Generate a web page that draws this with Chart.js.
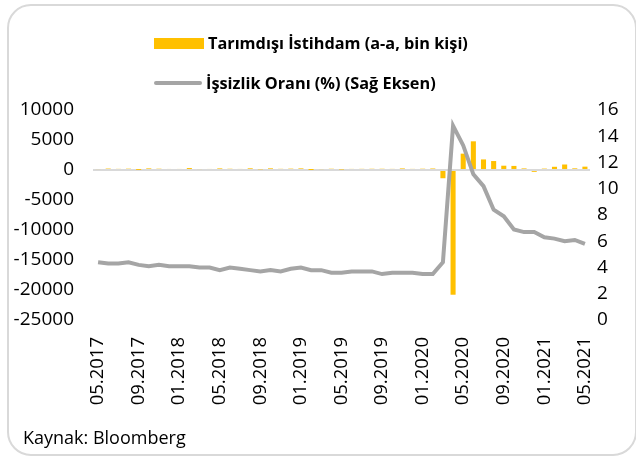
<!DOCTYPE html>
<html>
<head>
<meta charset="utf-8">
<script src="https://cdn.jsdelivr.net/npm/chart.js@4.4.1/dist/chart.umd.min.js"></script>
<style>
  html, body { margin: 0; padding: 0; background: #fff; }
  #wrap { position: relative; width: 636px; height: 457px; overflow: hidden; font-family: 'Open Sans', sans-serif; }
  #frame { position: absolute; left: 7px; top: 4px; width: 626px; height: 448px; border: 2px solid #d9d9d9; border-radius: 24px; }
  #chart { position: absolute; left: 0; top: 0; }
  .legItem { position: absolute; left: 154px; height: 20px; display: flex; align-items: center; font-weight: bold; font-size: 16.3px; color: #000; white-space: nowrap; }
  .legItem span.sw { display: inline-block; margin-right: 4px; }
  #source { position: absolute; left: 23px; top: 425px; font-size: 18px; color: #000; }
</style>
</head>
<body>
<div id="wrap">
  <div id="frame"></div>
  <canvas id="chart" width="636" height="457"></canvas>
  <div id="legend"></div>
  <div id="source">Kaynak: Bloomberg</div>
</div>
<script>
// aylar (05.2017 - 05.2021)
const months = [
  '05.2017','06.2017','07.2017','08.2017','09.2017','10.2017','11.2017','12.2017',
  '01.2018','02.2018','03.2018','04.2018','05.2018','06.2018','07.2018','08.2018','09.2018','10.2018','11.2018','12.2018',
  '01.2019','02.2019','03.2019','04.2019','05.2019','06.2019','07.2019','08.2019','09.2019','10.2019','11.2019','12.2019',
  '01.2020','02.2020','03.2020','04.2020','05.2020','06.2020','07.2020','08.2020','09.2020','10.2020','11.2020','12.2020',
  '01.2021','02.2021','03.2021','04.2021','05.2021'
];

// Tarımdışı istihdam, aylık değişim (bin kişi)
const payrolls = [
  155, 239, 190, 221, 18, 271, 216, 175,
  176, 324, 155, 175, 268, 208, 178, 282, 108, 277, 196, 227,
  269, 1, 147, 210, 85, 182, 194, 207, 208, 185, 261, 184,
  214, 251, -1373, -20787, 2725, 4781, 1761, 1493, 716, 680, 264, -306,
  233, 536, 916, 278, 559
];

// İşsizlik oranı (%)
const unemployment = [
  4.4, 4.3, 4.3, 4.4, 4.2, 4.1, 4.2, 4.1,
  4.1, 4.1, 4.0, 4.0, 3.8, 4.0, 3.9, 3.8, 3.7, 3.8, 3.7, 3.9,
  4.0, 3.8, 3.8, 3.6, 3.6, 3.7, 3.7, 3.7, 3.5, 3.6, 3.6, 3.6,
  3.5, 3.5, 4.4, 14.8, 13.3, 11.1, 10.2, 8.4, 7.9, 6.9, 6.7, 6.7,
  6.3, 6.2, 6.0, 6.1, 5.8
];

const seriesNames = ['Tarımdışı İstihdam (a-a, bin kişi)', 'İşsizlik Oranı (%) (Sağ Eksen)'];

const yFont = { family: "'Open Sans', sans-serif", size: 19 };
const xFont = { family: "'Open Sans', sans-serif", size: 18.5 };

const chartConfig = {
  data: {
    labels: months,
    datasets: [
      {
        type: 'line',
        label: seriesNames[1],
        data: unemployment,
        yAxisID: 'y1',
        borderColor: '#a5a5a5',
        borderWidth: 4,
        pointRadius: 0,
        tension: 0,
        order: 0,
      },
      {
        type: 'bar',
        label: seriesNames[0],
        data: payrolls,
        yAxisID: 'y',
        backgroundColor: '#ffc000',
        barPercentage: 0.5,
        categoryPercentage: 1,
        order: 1,
      },
    ],
  },
  options: {
    responsive: false,
    animation: false,
    layout: { padding: { left: 12, right: 16, top: 110, bottom: 37 } },
    plugins: {
      legend: { display: false },
      tooltip: { enabled: false },
    },
    scales: {
      x: {
        offset: true,
        grid: { display: false, drawTicks: false },
        border: { display: false },
        ticks: {
          autoSkip: false,
          maxRotation: 90,
          minRotation: 90,
          padding: 17,
          color: '#000',
          font: xFont,
          callback: (val, i) => (i % 4 === 0 ? months[i] : ''),
        },
        afterFit: (axis) => { axis.height = 100; },
      },
      y: {
        position: 'left',
        min: -25000,
        max: 10000,
        border: { display: false },
        grid: {
          drawTicks: false,
          lineWidth: 2,
          color: (ctx) => (ctx.tick && ctx.tick.value === 0 ? '#d9d9d9' : 'rgba(0,0,0,0)'),
        },
        ticks: { stepSize: 5000, padding: 19, color: '#000', font: yFont, callback: (v) => String(v) },
        afterFit: (axis) => { axis.width = 81; },
      },
      y1: {
        position: 'right',
        min: 0,
        max: 16,
        border: { display: false },
        grid: { display: false, drawTicks: false },
        ticks: { stepSize: 2, padding: 7, color: '#000', font: yFont, callback: (v) => String(v) },
        afterFit: (axis) => { axis.width = 30; },
      },
    },
  },
};

const chart = new Chart(document.getElementById('chart'), chartConfig);

// HTML legend, satır satır (bar önce, çizgi sonra)
const legend = document.getElementById('legend');
const legendRows = [
  { ds: chart.data.datasets[1], top: 33 },
  { ds: chart.data.datasets[0], top: 73 },
];
legendRows.forEach((row) => {
  const item = document.createElement('div');
  item.className = 'legItem';
  item.style.top = row.top + 'px';
  const sw = document.createElement('span');
  sw.className = 'sw';
  if (row.ds.type === 'bar') {
    sw.style.width = '50px';
    sw.style.height = '11px';
    sw.style.background = row.ds.backgroundColor;
  } else {
    sw.style.width = '48px';
    sw.style.height = '4px';
    sw.style.borderRadius = '2px';
    sw.style.background = row.ds.borderColor;
  }
  item.appendChild(sw);
  item.appendChild(document.createTextNode(row.ds.label));
  legend.appendChild(item);
});
</script>
</body>
</html>
